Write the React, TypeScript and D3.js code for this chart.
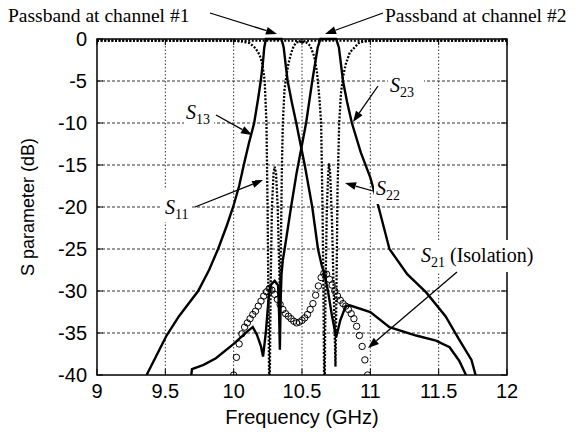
import React from "react";
import * as d3 from "d3";

const xTicks = [9, 9.5, 10, 10.5, 11, 11.5, 12];
const yTicks = [0, -5, -10, -15, -20, -25, -30, -35, -40];

// S13 (channel 1 transmission)
const s13: [number, number][] = [
  [9.363, -40], [9.4, -38.8], [9.45, -37.2], [9.509, -35.3], [9.6, -33], [9.74, -30], [9.82, -27.5],
  [9.886, -25], [9.95, -22.2], [9.996, -20], [10.04, -17.5], [10.074, -15], [10.11, -12.5], [10.15, -10],
  [10.18, -7], [10.198, -5], [10.213, -3], [10.224, -1], [10.236, 0], [10.35, 0], [10.366, -1], [10.38, -3],
  [10.395, -5], [10.425, -7.5], [10.458, -10], [10.495, -13], [10.52, -15], [10.575, -20], [10.617, -25],
  [10.645, -27], [10.665, -28], [10.69, -30], [10.72, -33], [10.75, -35.5], [10.78, -33.5], [10.82, -31.8],
  [10.848, -31.7], [11.0, -32.5], [11.14, -34.3], [11.335, -35.3], [11.48, -35.9], [11.58, -36.7],
  [11.65, -38.3], [11.7, -40],
];

// S23 (channel 2 transmission)
const s23: [number, number][] = [
  [9.69, -40], [9.695, -39.3], [9.78, -38.8], [9.87, -38], [10.0, -36.3], [10.1, -34.8], [10.14, -34.3],
  [10.17, -35.2], [10.2, -36.6], [10.215, -37.8], [10.235, -35], [10.255, -31], [10.27, -29.3], [10.3, -28.8],
  [10.325, -29.3], [10.333, -33], [10.338, -37], [10.344, -31], [10.35, -28], [10.36, -26.3], [10.373, -25],
  [10.42, -20], [10.46, -16], [10.495, -13], [10.53, -10], [10.575, -5], [10.595, -3], [10.615, -1],
  [10.635, 0], [10.75, 0], [10.77, -1], [10.785, -3], [10.8, -5], [10.83, -7.5], [10.865, -10], [10.93, -13.5],
  [11.0, -16.5], [11.06, -20], [11.14, -25], [11.27, -28], [11.41, -30.2], [11.55, -33], [11.65, -35.8],
  [11.74, -38.2], [11.77, -40],
];

// S11 (dotted)
const s11: [number, number][] = [
  [9.0, -0.2], [10.0, -0.2], [10.06, -0.3], [10.118, -0.5], [10.16, -1.1], [10.19, -1.9], [10.21, -3],
  [10.227, -5], [10.24, -10], [10.248, -20], [10.255, -32], [10.262, -45], [10.27, -30], [10.28, -20],
  [10.292, -16], [10.3, -15.2], [10.31, -16], [10.322, -20], [10.333, -27], [10.34, -31], [10.346, -24],
  [10.353, -15], [10.36, -10], [10.372, -6], [10.385, -4.5], [10.4, -3], [10.42, -1.7], [10.44, -0.8],
  [10.46, -0.4], [10.55, -0.2], [12.0, -0.2],
];

// S22 (dotted)
const s22: [number, number][] = [
  [9.0, -0.2], [10.45, -0.2], [10.53, -0.4], [10.56, -0.8], [10.59, -2.1], [10.61, -4], [10.627, -7],
  [10.64, -10], [10.65, -20], [10.657, -30], [10.664, -45], [10.672, -30], [10.682, -20], [10.692, -16],
  [10.698, -14.8], [10.706, -16], [10.72, -22], [10.735, -32], [10.745, -39], [10.752, -30], [10.76, -18],
  [10.772, -10], [10.785, -6.5], [10.8, -4.5], [10.82, -3], [10.85, -1.6], [10.92, -0.4], [11.0, -0.2],
  [12.0, -0.2],
];

// S21 isolation (circles)
const s21: [number, number][] = [
  [10.0, -40], [10.02, -37.9], [10.04, -36.3], [10.06, -35.1], [10.08, -34.3], [10.1, -33.8], [10.12, -33.3],
  [10.14, -32.8], [10.16, -32.4], [10.18, -31.8], [10.2, -31.2], [10.22, -30.6], [10.24, -30.1], [10.26, -29.7],
  [10.28, -29.9], [10.3, -30.4], [10.32, -31.0], [10.34, -31.6], [10.36, -32.2], [10.38, -32.7], [10.4, -33.0],
  [10.42, -33.3], [10.44, -33.6], [10.46, -33.8], [10.48, -33.7], [10.5, -33.5], [10.52, -33.2], [10.54, -32.8],
  [10.56, -32.2], [10.58, -31.5], [10.6, -30.5], [10.62, -29.4], [10.64, -28.4], [10.66, -27.9], [10.68, -28.0],
  [10.7, -28.6], [10.72, -29.3], [10.74, -30.0], [10.76, -30.6], [10.78, -31.1], [10.8, -31.5], [10.82, -31.8],
  [10.84, -32.2], [10.86, -32.7], [10.88, -33.3], [10.9, -34.2], [10.92, -35.3], [10.94, -36.6], [10.96, -38.2],
  [10.98, -40.0],
];

const L = 97, R = 507, T = 39, B = 375;
const serif = "'Liberation Serif', 'Times New Roman', serif";
const sans = "'Liberation Sans', Arial, sans-serif";

function Arrow({ x1, y1, x2, y2 }: { x1: number; y1: number; x2: number; y2: number }) {
  const ang = Math.atan2(y2 - y1, x2 - x1);
  const len = 11, wid = 4;
  const bx = x2 - len * Math.cos(ang), by = y2 - len * Math.sin(ang);
  const px = -Math.sin(ang) * wid, py = Math.cos(ang) * wid;
  return (
    <g>
      <line x1={x1} y1={y1} x2={bx} y2={by} stroke="#000" strokeWidth={1.3} />
      <polygon points={`${x2},${y2} ${bx + px},${by + py} ${bx - px},${by - py}`} fill="#000" />
    </g>
  );
}

function SLabel({ x, y, sub, rest }: { x: number; y: number; sub: string; rest?: string }) {
  return (
    <text x={x} y={y} fontFamily={serif} fontSize={20}>
      <tspan fontStyle="italic">S</tspan>
      <tspan fontSize={14} dy={5}>{sub}</tspan>
      {rest ? <tspan dy={-5}>{rest}</tspan> : null}
    </text>
  );
}

export default function App() {
  const x = d3.scaleLinear().domain([9, 12]).range([L, R]);
  const y = d3.scaleLinear().domain([-40, 0]).range([B, T]);
  const line = d3.line<[number, number]>().x((d) => x(d[0])).y((d) => y(d[1]));

  return (
    <svg width={586} height={435} style={{ display: "block", position: "absolute", left: 0, top: 0 }}>
      <rect x={0} y={0} width={586} height={435} fill="#fff" />
      <defs>
        <clipPath id="plotclip">
          <rect x={L} y={T - 2} width={R - L} height={B - T + 2} />
        </clipPath>
      </defs>
      {xTicks.slice(1, -1).map((t) => (
        <line key={"gx" + t} x1={x(t)} x2={x(t)} y1={T} y2={B} stroke="#333" strokeWidth={1} strokeDasharray="1.5,2" />
      ))}
      {yTicks.slice(1, -1).map((t) => (
        <line key={"gy" + t} x1={L} x2={R} y1={y(t)} y2={y(t)} stroke="#333" strokeWidth={1} strokeDasharray="3,2" />
      ))}
      {xTicks.map((t) => (
        <g key={"tx" + t}>
          <line x1={x(t)} x2={x(t)} y1={B} y2={B - 6} stroke="#000" />
          <line x1={x(t)} x2={x(t)} y1={T} y2={T + 6} stroke="#000" />
        </g>
      ))}
      {yTicks.map((t) => (
        <g key={"ty" + t}>
          <line x1={L} x2={L + 6} y1={y(t)} y2={y(t)} stroke="#000" />
          <line x1={R} x2={R - 6} y1={y(t)} y2={y(t)} stroke="#000" />
        </g>
      ))}
      <g clipPath="url(#plotclip)">
        <path d={line(s11) || ""} fill="none" stroke="#000" strokeWidth={2.3} strokeDasharray="2,1.6" />
        <path d={line(s22) || ""} fill="none" stroke="#000" strokeWidth={2.3} strokeDasharray="2,1.6" />
        <path d={line(s13) || ""} fill="none" stroke="#000" strokeWidth={2.4} />
        <path d={line(s23) || ""} fill="none" stroke="#000" strokeWidth={2.4} />
        {s21.map((d, i) => (
          <circle key={"c" + i} cx={x(d[0])} cy={y(d[1])} r={3.2} fill="none" stroke="#000" strokeWidth={1} />
        ))}
      </g>
      <rect x={L} y={T} width={R - L} height={B - T} fill="none" stroke="#000" strokeWidth={1.5} />
      {xTicks.map((t) => (
        <text key={"lx" + t} x={x(t)} y={398} textAnchor="middle" fontFamily={sans} fontSize={20}>
          {t}
        </text>
      ))}
      {yTicks.map((t) => (
        <text key={"ly" + t} x={87} y={y(t) + 7} textAnchor="end" fontFamily={sans} fontSize={20}>
          {t}
        </text>
      ))}
      <text x={(L + R) / 2} y={424} textAnchor="middle" fontFamily={sans} fontSize={20}>
        Frequency (GHz)
      </text>
      <text transform={`translate(34,${(T + B) / 2}) rotate(-90)`} textAnchor="middle" fontFamily={sans} fontSize={18}>
        S parameter (dB)
      </text>

      <text x={8} y={22} fontFamily={serif} fontSize={19.5}>Passband at channel #1</text>
      <Arrow x1={210} y1={13} x2={277} y2={34} />
      <text x={385} y={22} fontFamily={serif} fontSize={19.5}>Passband at channel #2</text>
      <Arrow x1={383} y1={13} x2={325} y2={34} />

      <rect x={184} y={103} width={30} height={25} fill="#fff" />
      <SLabel x={186} y={119} sub="13" />
      <Arrow x1={216} y1={115} x2={252} y2={135} />

      <rect x={161} y={188} width={31} height={34} fill="#fff" />
      <SLabel x={165} y={214} sub="11" />
      <Arrow x1={195} y1={207} x2={263} y2={180} />

      <rect x={388} y={72} width={36} height={28} fill="#fff" />
      <SLabel x={390} y={92} sub="23" />
      <Arrow x1={378} y1={86} x2={353} y2={122} />

      <rect x={374} y={176} width={30} height={28} fill="#fff" />
      <SLabel x={376} y={195} sub="22" />
      <Arrow x1={373} y1={191} x2={345} y2={183} />

      <rect x={416} y={240} width={124} height={32} fill="#fff" />
      <SLabel x={421} y={262} sub="21" rest=" (Isolation)" />
      <Arrow x1={457} y1={272} x2={368} y2={348} />
    </svg>
  );
}
